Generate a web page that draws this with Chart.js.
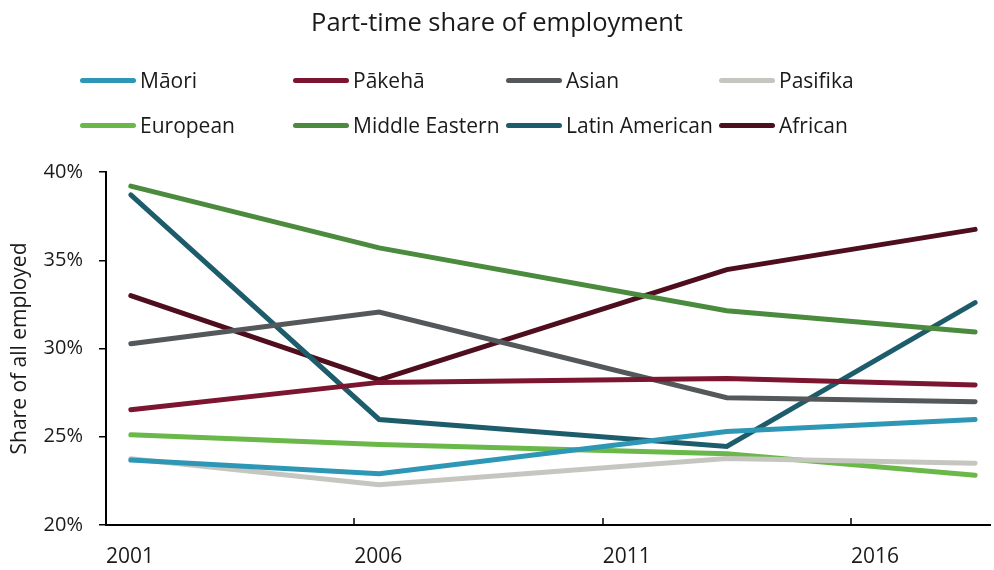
<!DOCTYPE html>
<html>
<head>
<meta charset="utf-8">
<script src="https://cdn.jsdelivr.net/npm/chart.js@4.4.1/dist/chart.umd.min.js"></script>
<style>
  html, body { margin: 0; padding: 0; background: #fff; }
  #wrap { position: relative; width: 994px; height: 570px; font-family: "Open Sans", sans-serif; color: #1a1a1a; }
  #title { position: absolute; left: 0; width: 994px; top: 4px; text-align: center; font-size: 25.5px; line-height: 34px; }
  #legend { position: absolute; left: 0; top: 0; width: 994px; height: 150px; }
  .item { position: absolute; display: flex; align-items: center; font-size: 21px; line-height: 30px; white-space: nowrap; }
  .sw { width: 56px; height: 5px; border-radius: 3px; margin-right: 4px; }
  canvas { position: absolute; left: 0; top: 0; }
</style>
</head>
<body>
<div id="wrap">
  <canvas id="c" width="994" height="570"></canvas>
  <div id="title">Part-time share of employment</div>
  <div id="legend"></div>
</div>
<script>
const years = [2001, 2006, 2013, 2018];
const seriesNames = ["Māori", "Pākehā", "Asian", "Pasifika", "European", "Middle Eastern", "Latin American", "African"];
const seriesColors = ["#2e97b5", "#7b1530", "#54585a", "#c6c6c1", "#6ab84a", "#4b8b3e", "#1d5c6b", "#4f0e1e"];
const maori = [23.68, 22.9, 25.3, 25.98];
const pakeha = [26.53, 28.08, 28.3, 27.93];
const asian = [30.27, 32.07, 27.21, 26.98];
const pasifika = [23.75, 22.28, 23.77, 23.5];
const european = [25.11, 24.56, 24.04, 22.82];
const middleEastern = [39.2, 35.7, 32.14, 30.93];
const latinAmerican = [38.7, 25.98, 24.45, 32.6];
const african = [33.0, 28.22, 34.47, 36.75];
const seriesValues = [maori, pakeha, asian, pasifika, european, middleEastern, latinAmerican, african];
const yTicks = [20, 25, 30, 35, 40];
const xTickYears = [2001, 2006, 2011, 2016];

// HTML legend
const legend = document.getElementById('legend');
seriesNames.forEach((name, i) => {
  const col = i % 4, row = Math.floor(i / 4);
  const d = document.createElement('div');
  d.className = 'item';
  d.style.left = (80 + col * 213) + 'px';
  d.style.top = (65 + row * 45) + 'px';
  const sw = document.createElement('span');
  sw.className = 'sw';
  sw.style.background = seriesColors[i];
  const t = document.createElement('span');
  t.textContent = name;
  d.appendChild(sw); d.appendChild(t);
  legend.appendChild(d);
});

const innerTicks = {
  id: 'innerTicks',
  afterDraw(chart) {
    const x = chart.scales.x, ctx = chart.ctx;
    const b = chart.chartArea.bottom;
    ctx.save();
    ctx.strokeStyle = '#000';
    ctx.lineWidth = 1.5;
    x.ticks.forEach(t => {
      const px = Math.round(x.getPixelForValue(t.value));
      if (px <= chart.chartArea.left + 1) return;
      ctx.beginPath();
      ctx.moveTo(px, b - 7);
      ctx.lineTo(px, b);
      ctx.stroke();
    });
    ctx.restore();
  }
};

new Chart(document.getElementById('c'), {
  type: 'line',
  data: {
    datasets: seriesNames.map((name, i) => ({
      label: name,
      data: years.map((y, j) => ({ x: y, y: seriesValues[i][j] })),
      borderColor: seriesColors[i],
      backgroundColor: seriesColors[i],
      borderWidth: 5,
      borderCapStyle: 'round',
      borderJoinStyle: 'miter',
      pointRadius: 0,
      tension: 0,
      fill: false
    }))
  },
  options: {
    responsive: false,
    animation: false,
    devicePixelRatio: 1,
    layout: { padding: { top: 172, right: 4, left: 0, bottom: 0 } },
    plugins: { legend: { display: false }, title: { display: false }, tooltip: { enabled: false } },
    scales: {
      x: {
        type: 'linear',
        min: 2000.5,
        max: 2018.3,
        afterBuildTicks: (s) => { s.ticks = xTickYears.map(y => ({ value: y - 0.5 })); },
        afterFit: (s) => { s.height = 45; },
        grid: { display: false },
        border: { display: true, color: '#000', width: 2 },
        ticks: {
          align: 'start',
          padding: 11,
          color: '#1a1a1a',
          font: { family: 'Open Sans', size: 21 },
          maxRotation: 0,
          autoSkip: false,
          callback: (v) => String(v + 0.5)
        }
      },
      y: {
        min: 20,
        max: 40,
        afterBuildTicks: (s) => { s.ticks = yTicks.map(v => ({ value: v })); },
        afterFit: (s) => { s.width = 106; },
        grid: { drawOnChartArea: false, drawTicks: true, tickLength: 7, color: '#000', lineWidth: 1.5 },
        border: { display: true, color: '#000', width: 2 },
        ticks: {
          padding: 16,
          color: '#1a1a1a',
          font: { family: 'Open Sans', size: 20 },
          callback: (v) => v + '%'
        },
        title: {
          display: true,
          text: 'Share of all employed',
          color: '#1a1a1a',
          font: { family: 'Open Sans', size: 21 },
          padding: { top: 7, bottom: 0 }
        }
      }
    }
  },
  plugins: [innerTicks]
});
</script>
</body>
</html>
